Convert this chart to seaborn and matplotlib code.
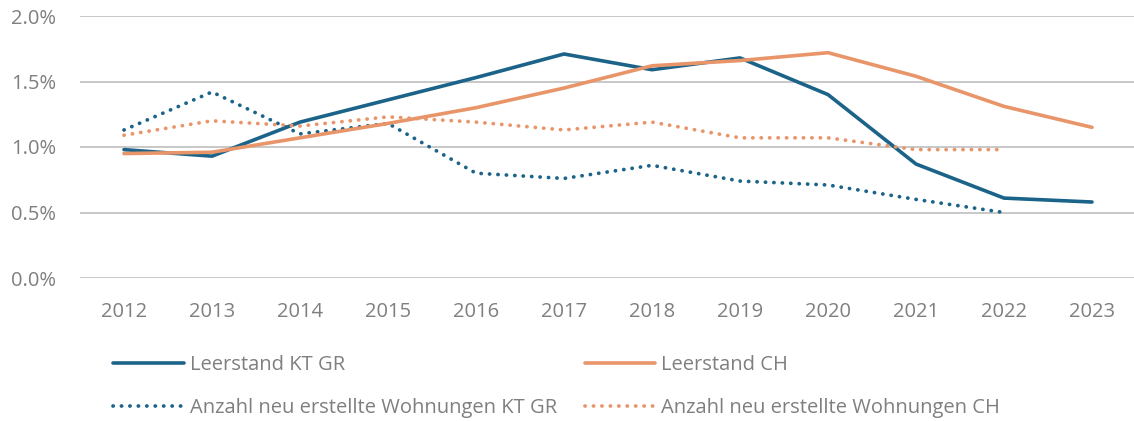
import seaborn as sns
import matplotlib
matplotlib.use("Agg")
import matplotlib.pyplot as plt
from matplotlib.ticker import FuncFormatter

# Werte in Prozent
jahre = [2012, 2013, 2014, 2015, 2016, 2017, 2018, 2019, 2020, 2021, 2022, 2023]
leer_gr = [0.98, 0.93, 1.19, 1.36, 1.53, 1.71, 1.59, 1.68, 1.40, 0.87, 0.61, 0.58]
leer_ch = [0.95, 0.96, 1.07, 1.18, 1.30, 1.45, 1.62, 1.66, 1.72, 1.54, 1.31, 1.15]
jahre_neu = [2012, 2013, 2014, 2015, 2016, 2017, 2018, 2019, 2020, 2021, 2022]
neu_gr = [1.13, 1.42, 1.10, 1.18, 0.80, 0.76, 0.86, 0.74, 0.71, 0.60, 0.50]
neu_ch = [1.09, 1.20, 1.16, 1.23, 1.19, 1.13, 1.19, 1.07, 1.07, 0.98, 0.98]

blau = "#1b6388"
orange = "#e9956a"
grau = "#7f7f7f"

sns.set_style("white")
plt.rcParams['font.family'] = ['Open Sans', 'DejaVu Sans']

fig = plt.figure(figsize=(11.34, 4.21), dpi=100)
ax = fig.add_axes([80/1134, 1-278/421, 1056/1134, 262/421])

sns.lineplot(x=jahre, y=leer_gr, ax=ax, color=blau, linewidth=2.6,
             label="Leerstand KT GR")
sns.lineplot(x=jahre_neu, y=neu_gr, ax=ax, color=blau, linewidth=2.7,
             linestyle=(0, (0.05, 2.2)), dash_capstyle="round",
             label="Anzahl neu erstellte Wohnungen KT GR")
sns.lineplot(x=jahre, y=leer_ch, ax=ax, color=orange, linewidth=2.6,
             label="Leerstand CH")
sns.lineplot(x=jahre_neu, y=neu_ch, ax=ax, color=orange, linewidth=2.7,
             linestyle=(0, (0.05, 2.2)), dash_capstyle="round",
             label="Anzahl neu erstellte Wohnungen CH")

ax.set_xlim(2011.5, 2023.5)
ax.set_ylim(0, 2.0)
ax.set_yticks([0, 0.5, 1.0, 1.5, 2.0])
ax.set_xticks(jahre)
ax.yaxis.set_major_formatter(FuncFormatter(lambda v, p: "%.1f%%" % v))
ax.grid(axis="y", color="#c8c8c8", linewidth=1.4)
ax.set_axisbelow(True)
sns.despine(ax=ax, left=True, bottom=True)
ax.tick_params(axis="both", length=0, labelsize=14.5, labelcolor=grau)
ax.tick_params(axis="x", pad=17)
ax.tick_params(axis="y", pad=17)

ax.legend(loc="upper left", bbox_to_anchor=(25/1056, -0.265), ncol=2,
          frameon=False, fontsize=14.5, labelcolor=grau, handlelength=3.5,
          handletextpad=0.3, columnspacing=1.4, labelspacing=1.1,
          borderaxespad=0)

fig.savefig("out.png", dpi=100)
